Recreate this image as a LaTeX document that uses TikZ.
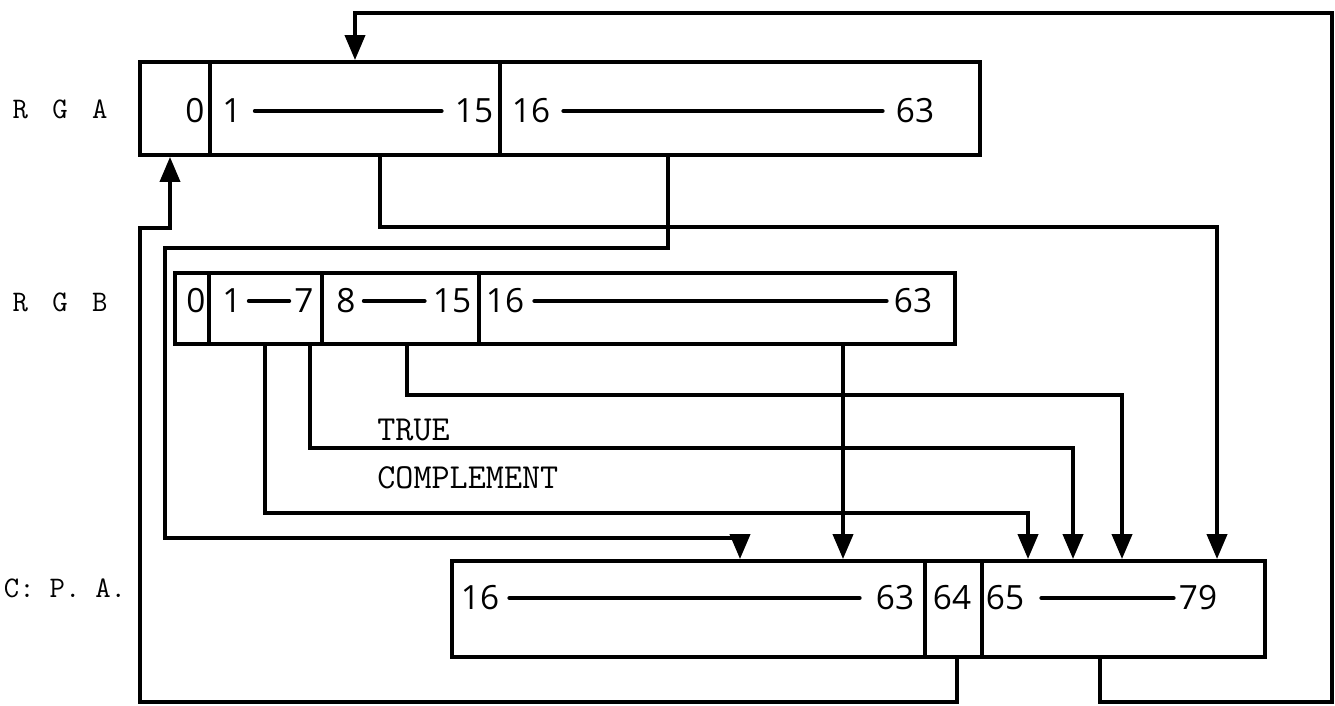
\documentclass[tikz,border=0pt]{standalone}
\usepackage{fontspec}
\newfontfamily\lettering{Open Sans}
\usetikzlibrary{arrows.meta,fit}
\tikzset{
  field/.style={draw, line width=2.2pt, inner sep=0pt},
  num/.style={font=\lettering\fontsize{19}{19}\selectfont, inner sep=0pt},
  regname/.style={font=\ttfamily\fontsize{17}{17}\selectfont, inner sep=0pt},
  tag/.style={font=\ttfamily\fontsize{20}{20}\selectfont, anchor=west, inner sep=0pt},
  bar/.style={line width=2.4pt, line cap=round, shorten <=0.26cm, shorten >=0.26cm},
  wire/.style={line width=2.2pt, -{Triangle[length=0.5cm,width=0.4cm]}}
}
\begin{document}
\begin{tikzpicture}[x=0.02cm,y=-0.02cm]
    \useasboundingbox (0,0) rectangle (1335,706);

    \node[regname] (lrga) at (60,109) {R\ \hspace{0.3em}G\ \hspace{0.3em}A};
    \node[regname] (lrgb) at (60,302) {R\ \hspace{0.3em}G\ \hspace{0.3em}B};
    \node[regname] (lcpa) at (65,588) {C:\hspace{0.5em}P.\hspace{0.5em}A.};

    \node[field, fit={(140,62) (210,155)}] (rga0) {};
    \node[field, fit={(210,62) (500,155)}] (rga1) {};
    \node[field, fit={(500,62) (980,155)}] (rga2) {};
    \node[num] (a0) at (195,111) {0};
    \node[num] (a1) at (232,111) {1};
    \node[num] (a15) at (474,111) {15};
    \node[num] (a16) at (531,111) {16};
    \node[num] (a63) at (915,111) {63};
    \draw[bar] (a1) -- (a15);
    \draw[bar] (a16) -- (a63);

    \node[field, fit={(175,273) (209,344)}] (rgb0) {};
    \node[field, fit={(209,273) (322,344)}] (rgb1) {};
    \node[field, fit={(322,273) (479,344)}] (rgb2) {};
    \node[field, fit={(479,273) (955,344)}] (rgb3) {};
    \node[num] (b0) at (196,301) {0};
    \node[num] (b1) at (232,301) {1};
    \node[num] (b7) at (304,301) {7};
    \node[num] (b8) at (346,301) {8};
    \node[num] (b15) at (452,301) {15};
    \node[num] (b16) at (505,301) {16};
    \node[num] (b63) at (913,301) {63};
    \draw[bar, shorten <=0.14cm, shorten >=0.1cm] (b1) -- (b7);
    \draw[bar, shorten <=0.16cm, shorten >=0.16cm] (b8) -- (b15);
    \draw[bar, shorten <=0.2cm, shorten >=0.14cm] (b16) -- (b63);

    \node[field, fit={(452,561) (925,657)}] (cpa0) {};
    \node[field, fit={(925,561) (982,657)}] (cpa1) {};
    \node[field, fit={(982,561) (1265,657)}] (cpa2) {};
    \node[num] (c16) at (480,598) {16};
    \node[num] (c63) at (895,598) {63};
    \node[num] (c64) at (952,598) {64};
    \node[num] (c65) at (1005,598) {65};
    \node[num] (c79) at (1198,598) {79};
    \draw[bar, shorten <=0.2cm, shorten >=0.32cm] (c16) -- (c63);
    \draw[bar, shorten <=0.34cm, shorten >=0.1cm] (c65) -- (c79);

    \node[tag] (ltrue) at (377,430) {TRUE};
    \node[tag] (lcompl) at (377,478) {COMPLEMENT};

    \draw[wire] (rga1.south -| 380,0) -- (380,227) -| (cpa2.north -| 1217,0);
    \draw[wire] (rga2.south -| 668,0) -- (668,248) -| (165,538) -| (cpa0.north -| 740,0);
    \draw[wire] (rgb3.south -| 843,0) -- (cpa0.north -| 843,0);
    \draw[wire] (rgb2.south -| 407,0) -- (407,395) -| (cpa2.north -| 1122,0);
    \draw[wire] (rgb1.south -| 310,0) -- (310,448) -| (cpa2.north -| 1073,0);
    \draw[wire] (rgb1.south -| 265,0) -- (265,513) -| (cpa2.north -| 1028,0);
    \draw[wire] (cpa1.south -| 957,0) -- (957,702) -| (140,228) -| (rga0.south -| 170,0);
    \draw[wire] (cpa2.south -| 1100,0) -- (1100,702) -| (1332,13) -| (rga1.north -| 355,0);
\end{tikzpicture}
\end{document}
